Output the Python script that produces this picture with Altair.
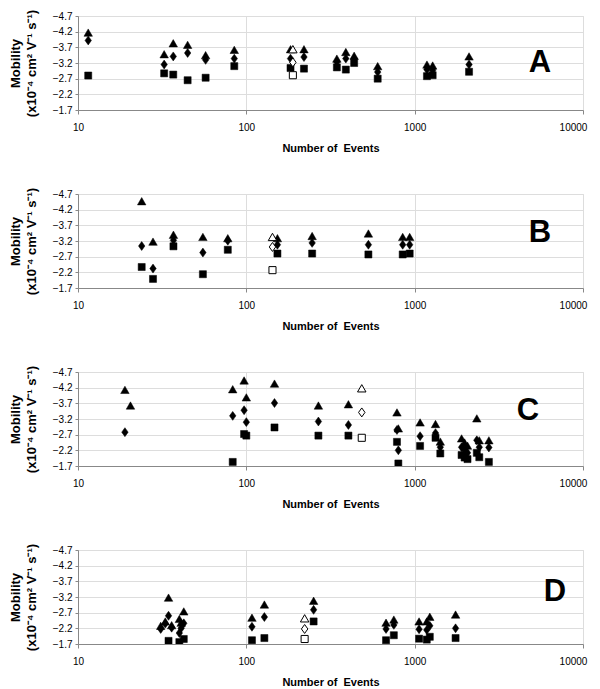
import altair as alt
import pandas as pd

FONT = "Liberation Sans"

# ---------------- data ----------------
panel_letters = ["A", "B", "C", "D"]
x_ticks = [10, 100, 1000, 10000]
y_ticks = [-4.7, -4.2, -3.7, -3.2, -2.7, -2.2, -1.7]

A_n   = [11.5, 32.5, 36.8, 44.8, 57.3, 84.8, 183, 220, 345, 390, 437, 603, 1183, 1279, 2104]
A_tri = [-4.17, -3.48, -3.83, -3.78, -3.45, -3.62, -3.64, -3.64, -3.34, -3.55, -3.43, -3.10, -3.15, -3.12, -3.41]
A_dia = [-3.92, -3.15, -3.41, -3.52, -3.30, -3.34, -3.34, -3.39, -3.23, -3.34, -3.34, -2.91, -2.99, -2.97, -3.15]
A_sq  = [-2.80, -2.87, -2.83, -2.65, -2.73, -3.10, -3.04, -3.02, -3.06, -2.99, -3.20, -2.70, -2.78, -2.81, -2.92]
A_open = [189, -3.64, -3.22, -2.81]

B_n   = [23.9, 27.9, 36.9, 55.2, 77.6, 153, 246, 531, 849, 934]
B_tri = [-4.47, -3.18, -3.40, -3.33, -3.29, -3.29, -3.36, -3.44, -3.33, -3.33]
B_dia = [-3.04, -2.32, -3.22, -2.83, -3.21, -3.08, -3.14, -3.08, -3.08, -3.08]
B_sq  = [-2.37, -1.99, -3.03, -2.14, -2.92, -2.80, -2.80, -2.77, -2.77, -2.80]
B_open = [143, -3.33, -3.01, -2.27]

C_n   = [19, 20.5, 83, 97, 100, 147, 268, 404, 785, 800, 1077, 1330, 1420, 1900, 1980, 2060, 2340, 2420, 2760]
C_tri = [-4.13, -3.63, -4.15, -4.43, -3.89, -4.33, -3.63, -3.67, -3.41, -2.90, -3.09, -3.04, -2.48, -2.58, -2.45, -2.35, -3.22, -2.52, -2.52]
C_dia = [-2.78, None, -3.30, -3.48, -3.10, -3.71, -3.12, -3.01, -2.85, -2.20, -2.65, -2.75, -2.30, -2.30, -2.20, -2.12, -2.52, -2.30, -2.29]
C_sq  = [None, None, -1.83, -2.72, -2.67, -2.93, -2.67, -2.67, -2.47, -1.78, -2.34, -2.60, -2.10, -2.05, -1.97, -1.92, -2.12, -1.98, -1.83]
C_open = [485, -4.18, -3.41, -2.60]

D_n   = [31, 33, 34.5, 36, 40, 41, 42.5, 108, 128, 251, 676, 752, 1062, 1180, 1230, 1750]
D_tri = [-2.28, -2.42, -3.18, -2.30, -2.50, -2.38, -2.74, -2.54, -2.96, -3.08, -2.38, -2.48, -2.42, -2.42, -2.57, -2.64]
D_dia = [-2.18, -2.35, -2.60, -2.22, -2.05, -2.20, -2.36, -2.25, -2.56, -2.79, -2.18, -2.31, -2.17, -2.15, -2.28, -2.20]
D_sq  = [None, None, -1.80, None, -1.76, None, -1.86, -1.82, -1.89, -2.42, -1.82, -1.98, -1.87, -1.84, -1.93, -1.89]
D_open = [222, -2.52, -2.18, -1.86]

panels = [
    (A_n, A_tri, A_dia, A_sq, A_open),
    (B_n, B_tri, B_dia, B_sq, B_open),
    (C_n, C_tri, C_dia, C_sq, C_open),
    (D_n, D_tri, D_dia, D_sq, D_open),
]

# ---------------- styling ----------------
PLOT_W = 505
PLOT_H = 94
letter_pos = [(462, 47), (462, 39), (450, 39), (477, 42)]

shapes = {
    "tri": ("triangle-up", 72),
    "dia": ("M0,-1L0.72,0L0,1L-0.72,0Z", 80),
    "sq": ("square", 50),
}


def panel_df(n, tri, dia, sq, op):
    rows = []
    for s, vals in (("sq", sq), ("dia", dia), ("tri", tri)):
        for x, v in zip(n, vals):
            if v is not None:
                rows.append({"n": x, "m": v, "s": s, "hollow": 0})
    for s, v in zip(("tri", "dia", "sq"), op[1:]):
        rows.append({"n": op[0], "m": v, "s": s, "hollow": 1})
    return pd.DataFrame(rows)


def make_panel(idx):
    n, tri, dia, sq, op = panels[idx]
    df = panel_df(n, tri, dia, sq, op)
    base = alt.Chart(df).encode(
        x=alt.X(
            "n:Q",
            scale=alt.Scale(type="log", domain=[10, 10000], nice=False),
            axis=alt.Axis(
                values=x_ticks, format="d", title="Number of\u00a0 Events",
                tickSize=4, labelPadding=8, titlePadding=10, labelFlush=False,
                labelOffset={"condition": {"test": "datum.value >= 10000", "value": -10}, "value": 0},
            ),
        ),
        y=alt.Y(
            "m:Q",
            scale=alt.Scale(domain=[-4.7, -1.7], reverse=True, nice=False, zero=False),
            axis=alt.Axis(
                values=y_ticks, format=".1f",
                title=["Mobility", "(x10\u207b\u2074 cm\u00b2 V\u207b\u00b9 s\u207b\u00b9)"],
                tickSize=3, labelPadding=3, titlePadding=14,
                titleFontSize=13, titleLineHeight=16,
            ),
        ),
    )
    layers = []
    for s in ("sq", "dia", "tri"):
        shp, size = shapes[s]
        layers.append(
            base.transform_filter((alt.datum.s == s) & (alt.datum.hollow == 0))
            .mark_point(shape=shp, size=size, filled=True, fill="black",
                        stroke="black", strokeWidth=0.5, opacity=1, clip=True)
        )
        layers.append(
            base.transform_filter((alt.datum.s == s) & (alt.datum.hollow == 1))
            .mark_point(shape=shp, size=size, filled=True, fill="white",
                        stroke="black", strokeWidth=1, opacity=1, clip=True)
        )
    lx, ly = letter_pos[idx]
    letter = alt.Chart(pd.DataFrame({"t": [panel_letters[idx]]})).mark_text(
        font=FONT, fontSize=31, fontWeight="bold", color="black",
        align="center", baseline="middle",
    ).encode(text="t:N", x=alt.value(lx), y=alt.value(ly))
    layers.append(letter)
    return alt.layer(*layers).properties(width=PLOT_W, height=PLOT_H)


chart = alt.vconcat(*[make_panel(i) for i in range(4)], spacing=32).properties(
    padding={"left": 0, "top": 0, "right": 0, "bottom": 0}
).configure_view(strokeWidth=0).configure_axis(
    grid=False,
    domainColor="#1a1a1a",
    domainWidth=1.5,
    tickColor="#1a1a1a",
    tickWidth=1.2,
    labelColor="black",
    labelFont=FONT,
    labelFontSize=13,
    titleColor="black",
    titleFont=FONT,
    titleFontSize=14,
    titleFontWeight="bold",
).configure(background="white")

chart.save("out.html", embed_options={"renderer": "svg", "actions": False})
